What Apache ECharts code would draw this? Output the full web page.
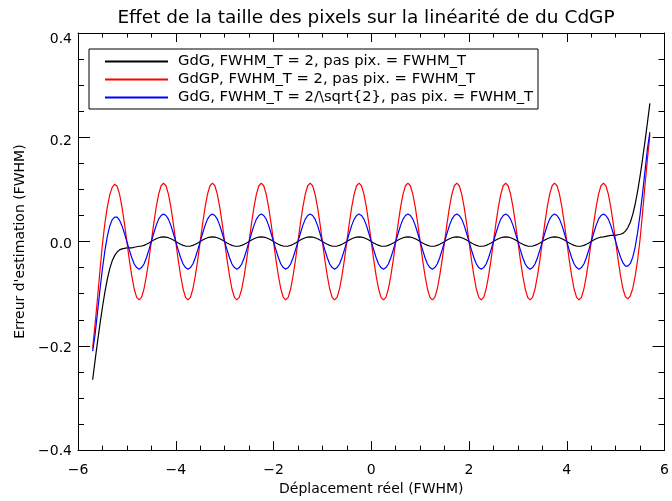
<!DOCTYPE html>
<html>
<head>
<meta charset="utf-8">
<script src="https://cdn.jsdelivr.net/npm/echarts@6/dist/echarts.min.js"></script>
<style>
html,body{margin:0;padding:0;background:#fff;overflow:hidden;}
#chart{width:672px;height:501px;}
</style>
</head>
<body>
<div id="chart"></div>
<script>
// ---- data ----
const titleText = "Effet de la taille des pixels sur la linéarité de du CdGP";
const xTitle = "Déplacement réel (FWHM)";
const yTitle = "Erreur d'estimation (FWHM)";
const seriesNames = [
  "GdG, FWHM_T = 2, pas pix. = FWHM_T",
  "GdGP, FWHM_T = 2, pas pix. = FWHM_T",
  "GdG, FWHM_T = 2/\\sqrt{2}, pas pix. = FWHM_T"
];
const xTicks = [-6, -4, -2, 0, 2, 4, 6];
const yTicks = [-0.4, -0.2, 0.0, 0.2, 0.4];

const xValues = [
-5.7,-5.65,-5.6,-5.55,-5.5,-5.45,-5.4,-5.35,-5.3,-5.25,-5.2,-5.15,-5.1,-5.05,-5,-4.95,-4.9,-4.85,-4.8,-4.75,
-4.7,-4.65,-4.6,-4.55,-4.5,-4.45,-4.4,-4.35,-4.3,-4.25,-4.2,-4.15,-4.1,-4.05,-4,-3.95,-3.9,-3.85,-3.8,-3.75,
-3.7,-3.65,-3.6,-3.55,-3.5,-3.45,-3.4,-3.35,-3.3,-3.25,-3.2,-3.15,-3.1,-3.05,-3,-2.95,-2.9,-2.85,-2.8,-2.75,
-2.7,-2.65,-2.6,-2.55,-2.5,-2.45,-2.4,-2.35,-2.3,-2.25,-2.2,-2.15,-2.1,-2.05,-2,-1.95,-1.9,-1.85,-1.8,-1.75,
-1.7,-1.65,-1.6,-1.55,-1.5,-1.45,-1.4,-1.35,-1.3,-1.25,-1.2,-1.15,-1.1,-1.05,-1,-0.95,-0.9,-0.85,-0.8,-0.75,
-0.7,-0.65,-0.6,-0.55,-0.5,-0.45,-0.4,-0.35,-0.3,-0.25,-0.2,-0.15,-0.1,-0.05,0,0.05,0.1,0.15,0.2,0.25,
0.3,0.35,0.4,0.45,0.5,0.55,0.6,0.65,0.7,0.75,0.8,0.85,0.9,0.95,1,1.05,1.1,1.15,1.2,1.25,
1.3,1.35,1.4,1.45,1.5,1.55,1.6,1.65,1.7,1.75,1.8,1.85,1.9,1.95,2,2.05,2.1,2.15,2.2,2.25,
2.3,2.35,2.4,2.45,2.5,2.55,2.6,2.65,2.7,2.75,2.8,2.85,2.9,2.95,3,3.05,3.1,3.15,3.2,3.25,
3.3,3.35,3.4,3.45,3.5,3.55,3.6,3.65,3.7,3.75,3.8,3.85,3.9,3.95,4,4.05,4.1,4.15,4.2,4.25,
4.3,4.35,4.4,4.45,4.5,4.55,4.6,4.65,4.7,4.75,4.8,4.85,4.9,4.95,5,5.05,5.1,5.15,5.2,5.25,
5.3,5.35,5.4,5.45,5.5,5.55,5.6,5.65,5.7
];

const gdgValues = [
-0.265,-0.228,-0.192,-0.158,-0.126,-0.097,-0.072,-0.052,-0.037,-0.027,-0.020,-0.016,-0.014,-0.013,-0.012,-0.012,-0.012,-0.011,-0.010,-0.009,
-0.0086,-0.0073,-0.0053,-0.0028,0,0.0028,0.0053,0.0073,0.0086,0.009,0.0086,0.0073,0.0053,0.0028,0,-0.0028,-0.0053,-0.0073,-0.0086,-0.009,
-0.0086,-0.0073,-0.0053,-0.0028,0,0.0028,0.0053,0.0073,0.0086,0.009,0.0086,0.0073,0.0053,0.0028,0,-0.0028,-0.0053,-0.0073,-0.0086,-0.009,
-0.0086,-0.0073,-0.0053,-0.0028,0,0.0028,0.0053,0.0073,0.0086,0.009,0.0086,0.0073,0.0053,0.0028,0,-0.0028,-0.0053,-0.0073,-0.0086,-0.009,
-0.0086,-0.0073,-0.0053,-0.0028,0,0.0028,0.0053,0.0073,0.0086,0.009,0.0086,0.0073,0.0053,0.0028,0,-0.0028,-0.0053,-0.0073,-0.0086,-0.009,
-0.0086,-0.0073,-0.0053,-0.0028,0,0.0028,0.0053,0.0073,0.0086,0.009,0.0086,0.0073,0.0053,0.0028,0,-0.0028,-0.0053,-0.0073,-0.0086,-0.009,
-0.0086,-0.0073,-0.0053,-0.0028,0,0.0028,0.0053,0.0073,0.0086,0.009,0.0086,0.0073,0.0053,0.0028,0,-0.0028,-0.0053,-0.0073,-0.0086,-0.009,
-0.0086,-0.0073,-0.0053,-0.0028,0,0.0028,0.0053,0.0073,0.0086,0.009,0.0086,0.0073,0.0053,0.0028,0,-0.0028,-0.0053,-0.0073,-0.0086,-0.009,
-0.0086,-0.0073,-0.0053,-0.0028,0,0.0028,0.0053,0.0073,0.0086,0.009,0.0086,0.0073,0.0053,0.0028,0,-0.0028,-0.0053,-0.0073,-0.0086,-0.009,
-0.0086,-0.0073,-0.0053,-0.0028,0,0.0028,0.0053,0.0073,0.0086,0.009,0.0086,0.0073,0.0053,0.0028,0,-0.0028,-0.0053,-0.0073,-0.0086,-0.009,
-0.0086,-0.0073,-0.0053,-0.0028,0,0.0028,0.0053,0.0073,0.0086,0.009,0.010,0.011,0.012,0.012,0.012,0.013,0.014,0.016,0.020,0.027,
0.037,0.052,0.072,0.097,0.126,0.158,0.192,0.228,0.265
];

const gdgpValues = [
-0.205,-0.158,-0.108,-0.055,-0.005,0.035,0.066,0.090,0.104,0.110,0.106,0.091,0.066,0.035,0,-0.035,-0.066,-0.091,-0.107,-0.112,
-0.107,-0.091,-0.066,-0.035,0,0.035,0.066,0.091,0.107,0.112,0.107,0.091,0.066,0.035,0,-0.035,-0.066,-0.091,-0.107,-0.112,
-0.107,-0.091,-0.066,-0.035,0,0.035,0.066,0.091,0.107,0.112,0.107,0.091,0.066,0.035,0,-0.035,-0.066,-0.091,-0.107,-0.112,
-0.107,-0.091,-0.066,-0.035,0,0.035,0.066,0.091,0.107,0.112,0.107,0.091,0.066,0.035,0,-0.035,-0.066,-0.091,-0.107,-0.112,
-0.107,-0.091,-0.066,-0.035,0,0.035,0.066,0.091,0.107,0.112,0.107,0.091,0.066,0.035,0,-0.035,-0.066,-0.091,-0.107,-0.112,
-0.107,-0.091,-0.066,-0.035,0,0.035,0.066,0.091,0.107,0.112,0.107,0.091,0.066,0.035,0,-0.035,-0.066,-0.091,-0.107,-0.112,
-0.107,-0.091,-0.066,-0.035,0,0.035,0.066,0.091,0.107,0.112,0.107,0.091,0.066,0.035,0,-0.035,-0.066,-0.091,-0.107,-0.112,
-0.107,-0.091,-0.066,-0.035,0,0.035,0.066,0.091,0.107,0.112,0.107,0.091,0.066,0.035,0,-0.035,-0.066,-0.091,-0.107,-0.112,
-0.107,-0.091,-0.066,-0.035,0,0.035,0.066,0.091,0.107,0.112,0.107,0.091,0.066,0.035,0,-0.035,-0.066,-0.091,-0.107,-0.112,
-0.107,-0.091,-0.066,-0.035,0,0.035,0.066,0.091,0.107,0.112,0.107,0.091,0.066,0.035,0,-0.035,-0.066,-0.091,-0.107,-0.112,
-0.107,-0.091,-0.066,-0.035,0,0.035,0.066,0.091,0.107,0.112,0.107,0.091,0.066,0.035,0,-0.035,-0.066,-0.091,-0.106,-0.110,
-0.104,-0.090,-0.066,-0.035,0.005,0.055,0.108,0.158,0.205
];

const gdgSqrtValues = [
-0.210,-0.178,-0.135,-0.092,-0.052,-0.018,0.010,0.030,0.042,0.047,0.047,0.041,0.030,0.016,0,-0.016,-0.031,-0.043,-0.050,-0.053,
-0.050,-0.043,-0.031,-0.016,0,0.016,0.031,0.043,0.050,0.053,0.050,0.043,0.031,0.016,0,-0.016,-0.031,-0.043,-0.050,-0.053,
-0.050,-0.043,-0.031,-0.016,0,0.016,0.031,0.043,0.050,0.053,0.050,0.043,0.031,0.016,0,-0.016,-0.031,-0.043,-0.050,-0.053,
-0.050,-0.043,-0.031,-0.016,0,0.016,0.031,0.043,0.050,0.053,0.050,0.043,0.031,0.016,0,-0.016,-0.031,-0.043,-0.050,-0.053,
-0.050,-0.043,-0.031,-0.016,0,0.016,0.031,0.043,0.050,0.053,0.050,0.043,0.031,0.016,0,-0.016,-0.031,-0.043,-0.050,-0.053,
-0.050,-0.043,-0.031,-0.016,0,0.016,0.031,0.043,0.050,0.053,0.050,0.043,0.031,0.016,0,-0.016,-0.031,-0.043,-0.050,-0.053,
-0.050,-0.043,-0.031,-0.016,0,0.016,0.031,0.043,0.050,0.053,0.050,0.043,0.031,0.016,0,-0.016,-0.031,-0.043,-0.050,-0.053,
-0.050,-0.043,-0.031,-0.016,0,0.016,0.031,0.043,0.050,0.053,0.050,0.043,0.031,0.016,0,-0.016,-0.031,-0.043,-0.050,-0.053,
-0.050,-0.043,-0.031,-0.016,0,0.016,0.031,0.043,0.050,0.053,0.050,0.043,0.031,0.016,0,-0.016,-0.031,-0.043,-0.050,-0.053,
-0.050,-0.043,-0.031,-0.016,0,0.016,0.031,0.043,0.050,0.053,0.050,0.043,0.031,0.016,0,-0.016,-0.031,-0.043,-0.050,-0.053,
-0.050,-0.043,-0.031,-0.016,0,0.016,0.031,0.043,0.050,0.053,0.050,0.043,0.031,0.016,0,-0.016,-0.030,-0.041,-0.047,-0.047,
-0.042,-0.030,-0.010,0.018,0.052,0.092,0.135,0.178,0.210
];

const seriesValues = [gdgValues, gdgpValues, gdgSqrtValues];
const seriesColors = ['#000000', '#ff0000', '#0000ff'];

// ---- chart ----
const FONT = 'DejaVu Sans';
const minus = s => s.replace('-', '\u2212');
const xFmt = v => minus(String(v));
// y tick labels: small per-label vertical offsets as in the reference
const yFmt = v => {
  const s = minus(v.toFixed(1));
  if (v > 0.35) return '{a|' + s + '}';
  if (v > 0.15) return '{b|' + s + '}';
  if (v > -0.05) return '{c|' + s + '}';
  if (v > -0.25) return '{d|' + s + '}';
  return '{e|' + s + '}';
};
const labelBase = {fontFamily: FONT, fontSize: 14, color: '#000'};
const yRich = {
  a: Object.assign({}, labelBase, {padding: [13, 0, 0, 0]}),
  b: Object.assign({}, labelBase, {padding: [8, 0, 0, 0]}),
  c: Object.assign({}, labelBase, {padding: [6, 0, 0, 0]}),
  d: Object.assign({}, labelBase, {padding: [5, 0, 0, 0]}),
  e: Object.assign({}, labelBase, {padding: [3, 0, 0, 0]})
};

const chart = echarts.init(document.getElementById('chart'), null, {renderer: 'canvas'});

function pairs(ys) { return xValues.map((x, i) => [x, ys[i]]); }

const xBase = {
  type: 'value', min: xTicks[0], max: xTicks[xTicks.length - 1], interval: 2,
  axisLine: {show: true, onZero: false, lineStyle: {color: '#000', width: 1}},
  axisTick: {show: true, inside: true, length: 9, lineStyle: {color: '#000'}},
  minorTick: {show: true, splitNumber: 4, length: 4.5, lineStyle: {color: '#000'}},
  splitLine: {show: false}, minorSplitLine: {show: false}
};
const yBase = {
  type: 'value', min: yTicks[0], max: yTicks[yTicks.length - 1], interval: 0.2,
  axisLine: {show: true, onZero: false, lineStyle: {color: '#000', width: 1}},
  axisTick: {show: true, inside: true, length: 12, lineStyle: {color: '#000'}},
  minorTick: {show: true, splitNumber: 4, length: 6, lineStyle: {color: '#000'}},
  splitLine: {show: false}, minorSplitLine: {show: false}
};

const option = {
  animation: false,
  backgroundColor: '#fff',
  textStyle: {fontFamily: FONT},
  graphic: [{
    type: 'text', x: 366, y: 18,
    style: {text: titleText, fontFamily: FONT, fontSize: 18.5, fill: '#000',
            align: 'center', verticalAlign: 'middle'}
  }],
  grid: {left: 78, right: 2, top: 33, bottom: 48, containLabel: false},
  legend: {
    orient: 'vertical', left: 89, top: 49,
    data: seriesNames,
    itemWidth: 63, itemHeight: 14, itemGap: 3,
    padding: [5, 5, 4, 15],
    borderColor: '#000', borderWidth: 1,
    itemStyle: {opacity: 0},
    textStyle: {fontFamily: FONT, fontSize: 14.75, color: '#000', padding: [0, 0, 0, 5]}
  },
  xAxis: [
    Object.assign({}, xBase, {
      position: 'bottom',
      axisLabel: {show: true, margin: 13, fontFamily: FONT, fontSize: 14, color: '#000', formatter: xFmt},
      name: xTitle, nameLocation: 'middle', nameGap: 30,
      nameTextStyle: {fontFamily: FONT, fontSize: 14, color: '#000'}
    }),
    Object.assign({}, xBase, {position: 'top', axisLabel: {show: false}})
  ],
  yAxis: [
    Object.assign({}, yBase, {
      position: 'left',
      axisLabel: {show: true, margin: 6, formatter: yFmt, rich: yRich},
      name: yTitle, nameLocation: 'middle', nameGap: 44,
      nameTextStyle: {fontFamily: FONT, fontSize: 14, color: '#000'}
    }),
    Object.assign({}, yBase, {position: 'right', axisLabel: {show: false}})
  ],
  series: seriesNames.map((name, i) => ({
    name: name, type: 'line', xAxisIndex: 0, yAxisIndex: 0,
    data: pairs(seriesValues[i]),
    symbol: 'none', smooth: false,
    lineStyle: {color: seriesColors[i], width: 1.2},
    itemStyle: {color: seriesColors[i]},
    z: 3 + i
  }))
};
chart.setOption(option);
</script>
</body>
</html>
